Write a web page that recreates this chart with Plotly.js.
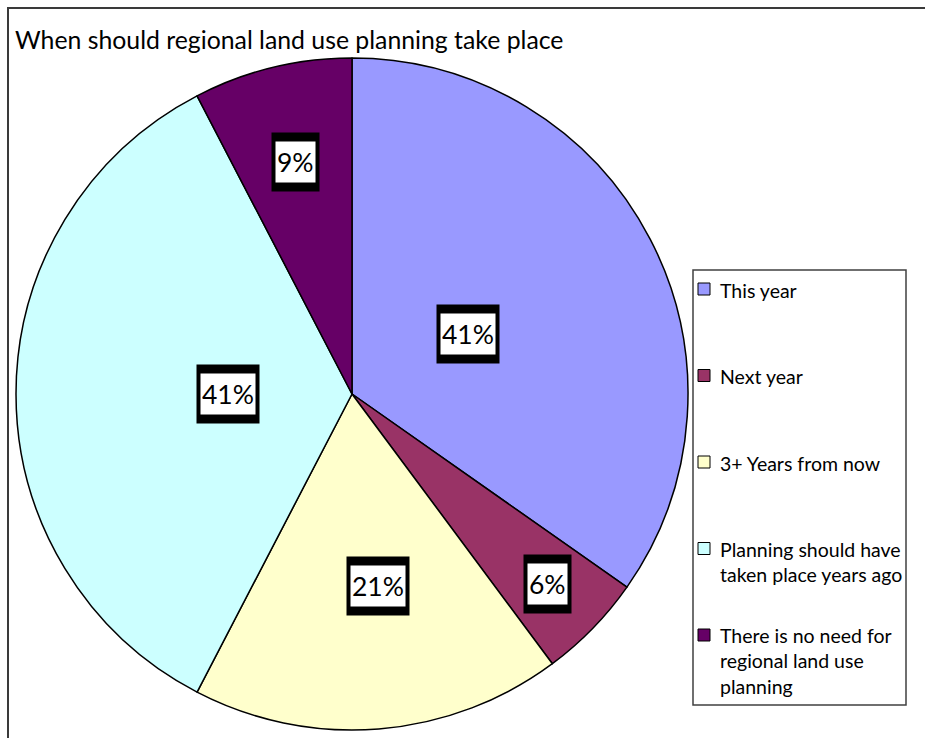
<!DOCTYPE html>
<html>
<head>
<meta charset="utf-8">
<script src="https://cdn.plot.ly/plotly-3.0.1.min.js"></script>
<style>
  html, body { margin: 0; padding: 0; background: #ffffff; }
  #chart { width: 925px; height: 738px; }
</style>
</head>
<body>
<div id="chart"></div>
<script>
// ---- data ----
const chartTitle = 'When should regional land use planning take place';
const labels = [
  'This year',
  'Next year',
  '3+ Years from now',
  'Planning should have taken place years ago',
  'There is no need for regional land use planning'
];
const values = [41, 6, 21, 41, 9];
const valueLabels = values.map(v => v + '%');

// ---- style ----
const colors = ['#9999FF', '#993366', '#FFFFCC', '#CCFFFF', '#660066'];
const W = 925, H = 738;
const CX = 352, CY = 394, R = 336;           // pie placement (px)
const labelRadius = [0.389, 0.812, 0.576, 0.370, 0.710]; // label distance from centre, fraction of radius
const labelAngleShift = [0, 0, -3, 0, 0];                // small best-fit nudges, degrees
const FONT = 'Lato, "Open Sans", sans-serif';

const px = x => x / W;
const py = y => 1 - y / H;

function wrap(text, maxChars) {
  const words = text.split(' ');
  const lines = [];
  let cur = '';
  words.forEach(w => {
    const t = cur ? cur + ' ' + w : w;
    if (t.length > maxChars && cur) { lines.push(cur); cur = w; }
    else cur = t;
  });
  if (cur) lines.push(cur);
  return lines;
}

const total = values.reduce((a, b) => a + b, 0);
const annotations = [];
const shapes = [];

// value labels with thick black frame, positioned from the slice mid-angles
let cum = 0;
values.forEach((v, i) => {
  const mid = (cum + v / 2) / total * 2 * Math.PI + labelAngleShift[i] * Math.PI / 180;
  cum += v;
  const d = R * labelRadius[i];
  const x = CX + d * Math.sin(mid);
  const y = CY - d * Math.cos(mid);
  annotations.push({
    x: px(x), y: py(y), xref: 'paper', yref: 'paper',
    xanchor: 'center', yanchor: 'middle', showarrow: false,
    text: valueLabels[i], font: {family: FONT, size: 26.5, color: '#000'},
    bgcolor: '#000', borderpad: 5, height: 48
  });
  annotations.push({
    x: px(x), y: py(y), xref: 'paper', yref: 'paper',
    xanchor: 'center', yanchor: 'middle', showarrow: false,
    text: valueLabels[i], font: {family: FONT, size: 26.5, color: '#000'},
    bgcolor: '#fff', borderpad: 1, height: 38
  });
});

// legend (drawn manually to reproduce the spacing)
const LEG = {x0: 693, x1: 906, y0: 270, y1: 705, first: 289, step: 86.5, fs: 19.5};
shapes.push({type: 'rect', xref: 'paper', yref: 'paper',
  x0: px(LEG.x0), x1: px(LEG.x1), y0: py(LEG.y0), y1: py(LEG.y1),
  line: {color: '#404040', width: 1.5}, fillcolor: '#fff', layer: 'below'});
labels.forEach((lab, i) => {
  const mc = LEG.first + i * LEG.step;
  shapes.push({type: 'rect', xref: 'paper', yref: 'paper',
    x0: px(698), x1: px(710), y0: py(mc - 6), y1: py(mc + 6),
    fillcolor: colors[i], line: {color: '#000', width: 1}});
  const lines = wrap(lab, 21);
  const lh = LEG.fs * 1.3;
  annotations.push({
    x: px(718), y: py(mc + (lines.length - 1) * lh / 2 + 1), xref: 'paper', yref: 'paper',
    xanchor: 'left', yanchor: 'middle', align: 'left', showarrow: false,
    text: lines.join('<br>'), font: {family: FONT, size: LEG.fs, color: '#000'}
  });
});

// outer chart frame (cropped at right and bottom)
shapes.push({type: 'rect', xref: 'paper', yref: 'paper',
  x0: px(8), x1: px(W + 20), y0: py(8), y1: py(H + 20),
  line: {color: '#3a3a3a', width: 2}, fillcolor: 'rgba(0,0,0,0)', layer: 'below'});

const trace = {
  type: 'pie',
  labels: labels,
  values: values,
  sort: false,
  direction: 'clockwise',
  rotation: 0,
  textinfo: 'none',
  hoverinfo: 'label+value',
  marker: {colors: colors, line: {color: '#000', width: 1.5}},
  domain: {x: [px(CX - R), px(CX + R)], y: [py(CY + R), py(CY - R)]},
  showlegend: false
};

const layout = {
  width: W, height: H,
  margin: {l: 0, r: 0, t: 0, b: 0},
  paper_bgcolor: '#fff',
  title: {
    text: chartTitle, x: px(15), xanchor: 'left', xref: 'paper',
    y: py(40), yanchor: 'middle', yref: 'container',
    font: {family: FONT, size: 24.8, color: '#000'}
  },
  showlegend: false,
  annotations: annotations,
  shapes: shapes
};

Plotly.newPlot('chart', [trace], layout, {displayModeBar: false, staticPlot: true});
</script>
</body>
</html>
